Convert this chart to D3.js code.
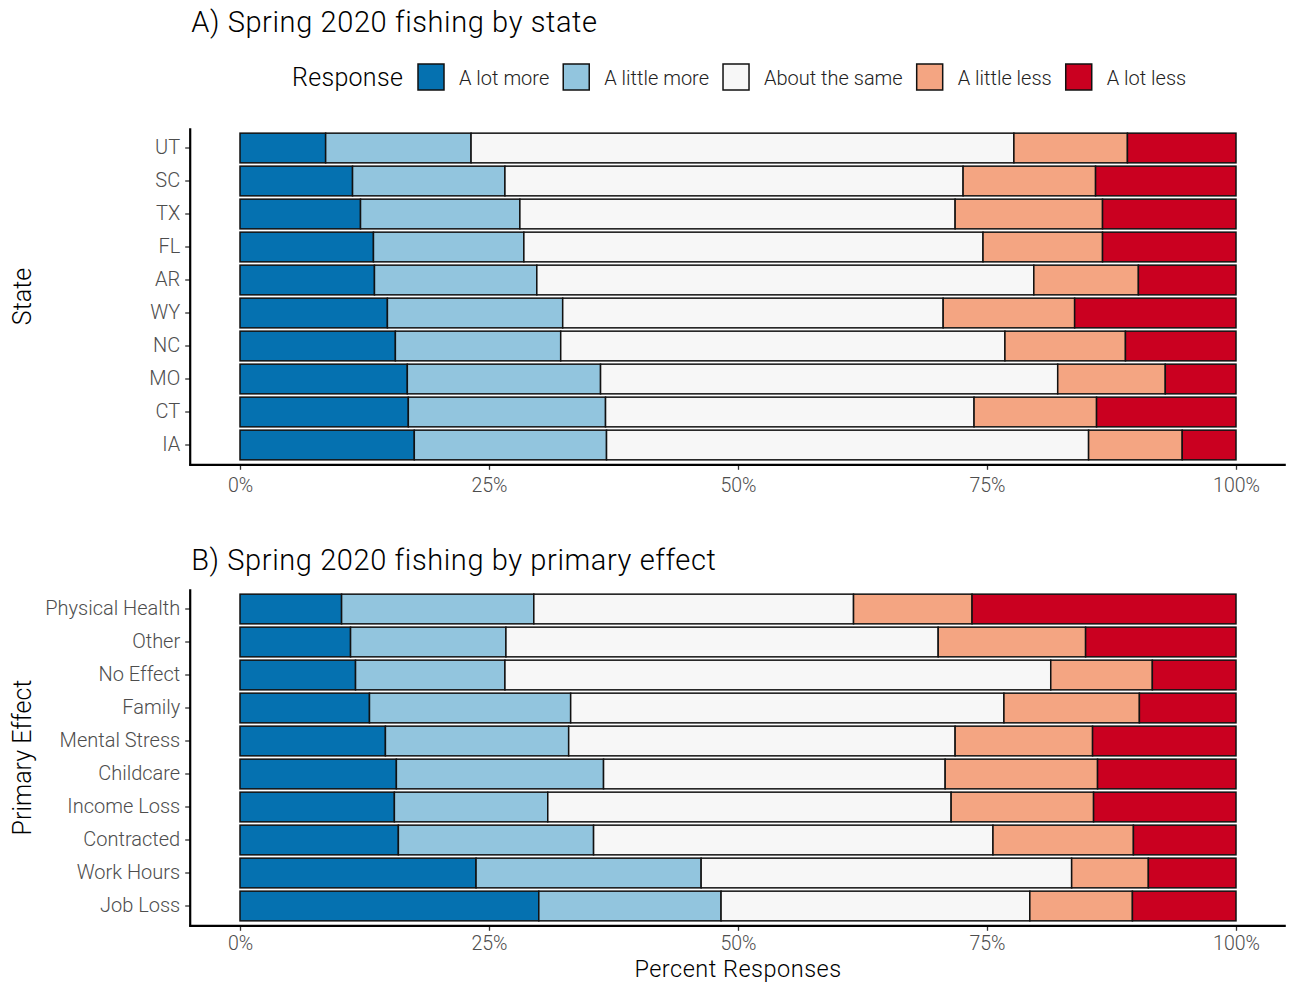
<!DOCTYPE html>
<html>
<head>
<meta charset="utf-8">
<script src="https://cdn.jsdelivr.net/npm/d3@7"></script>
<style>
  body { margin: 0; background: #fff; }
  svg { display: block; }
  text { font-family: Roboto, "Liberation Sans", Arial, sans-serif; font-weight: 300; }
</style>
</head>
<body>
<svg id="chart" width="1291" height="983"></svg>
<script>
// Response levels and their fill colours (RdBu, 5 classes)
const responses = ["A lot more", "A little more", "About the same", "A little less", "A lot less"];
const responseColors = ["#0571b0", "#92c5de", "#f7f7f7", "#f4a582", "#ca0020"];

// Panel A: share of responses (%) by state
const states = ["UT", "SC", "TX", "FL", "AR", "WY", "NC", "MO", "CT", "IA"];
const stateLotMore    = [8.6, 11.3, 12.1, 13.4, 13.5, 14.8, 15.6, 16.8, 16.9, 17.5];
const stateLittleMore = [14.6, 15.3, 16.0, 15.1, 16.3, 17.6, 16.6, 19.4, 19.8, 19.3];
const stateSame       = [54.5, 46.0, 43.7, 46.1, 49.9, 38.2, 44.6, 45.9, 37.0, 48.4];
const stateLittleLess = [11.4, 13.3, 14.8, 12.0, 10.5, 13.2, 12.1, 10.8, 12.3, 9.4];
const stateLotLess    = [10.9, 14.1, 13.4, 13.4, 9.8, 16.2, 11.1, 7.1, 14.0, 5.4];

// Panel B: share of responses (%) by primary COVID-19 effect
const effects = ["Physical Health", "Other", "No Effect", "Family", "Mental Stress",
                 "Childcare", "Income Loss", "Contracted", "Work Hours", "Job Loss"];
const effectLotMore    = [10.2, 11.1, 11.6, 13.0, 14.6, 15.7, 15.5, 15.9, 23.7, 30.0];
const effectLittleMore = [19.3, 15.6, 15.0, 20.2, 18.4, 20.8, 15.4, 19.6, 22.6, 18.3];
const effectSame       = [32.1, 43.4, 54.8, 43.5, 38.8, 34.3, 40.5, 40.1, 37.2, 31.0];
const effectLittleLess = [11.9, 14.8, 10.2, 13.6, 13.8, 15.3, 14.3, 14.1, 7.7, 10.3];
const effectLotLess    = [26.5, 15.1, 8.4, 9.7, 14.4, 13.9, 14.3, 10.3, 8.8, 10.4];

const xTicks = [0, 0.25, 0.5, 0.75, 1];

const svg = d3.select("#chart");

// Shared horizontal scale: proportion of responses, with 5% padding on each side
const x = d3.scaleLinear().domain([0, 1]).range([240, 1236]);
const xPad = 0.05;

function buildRows(cats, cols) {
  return cats.map((c, i) => {
    const row = { cat: c };
    responses.forEach((r, j) => { row[r] = cols[j][i]; });
    return row;
  });
}

function drawPanel(cats, cols, top, bottom, title, titleY, yTitle, xTickPad) {
  const rows = buildRows(cats, cols);
  const stack = d3.stack().keys(responses).offset(d3.stackOffsetExpand);
  const layers = stack(rows);

  const y = d3.scaleBand().domain(cats).range([top, bottom])
    .paddingInner(0.1).paddingOuter(0.15);

  const g = svg.append("g");

  // stacked bars
  layers.forEach((layer, j) => {
    g.append("g")
      .selectAll("rect")
      .data(layer)
      .join("rect")
      .attr("x", d => x(d[0]))
      .attr("width", d => x(d[1]) - x(d[0]))
      .attr("y", d => y(d.data.cat))
      .attr("height", y.bandwidth())
      .attr("fill", responseColors[j])
      .attr("stroke", "#111")
      .attr("stroke-width", 1.5);
  });

  // y axis
  const yAxis = g.append("g")
    .attr("transform", `translate(${x(-xPad)},0)`)
    .call(d3.axisLeft(y).tickSize(5).tickPadding(5));
  yAxis.select(".domain").remove();
  yAxis.selectAll(".tick line").attr("stroke", "#333").attr("stroke-width", 1.3);
  yAxis.selectAll(".tick text").attr("fill", "#4d4d4d").style("font-size", "20px");

  // x axis
  const xAxis = g.append("g")
    .attr("transform", `translate(0,${bottom})`)
    .call(d3.axisBottom(x).tickValues(xTicks).tickFormat(d3.format(".0%")).tickSize(5).tickPadding(xTickPad));
  xAxis.select(".domain").remove();
  xAxis.selectAll(".tick line").attr("stroke", "#333").attr("stroke-width", 1.3);
  xAxis.selectAll(".tick text").attr("fill", "#4d4d4d").style("font-size", "19.5px");

  // axis lines
  g.append("line")
    .attr("x1", x(-xPad)).attr("x2", x(-xPad))
    .attr("y1", top).attr("y2", bottom)
    .attr("stroke", "#000").attr("stroke-width", 2.2);
  g.append("line")
    .attr("x1", x(-xPad) - 1.1).attr("x2", x(1 + xPad))
    .attr("y1", bottom).attr("y2", bottom)
    .attr("stroke", "#000").attr("stroke-width", 2.2);

  // panel title
  g.append("text")
    .attr("x", x(-xPad) + 1).attr("y", titleY)
    .style("font-size", "29px").style("letter-spacing", "0.6px").attr("fill", "#000")
    .text(title);

  // y axis title
  g.append("text")
    .attr("transform", `translate(31,${(top + bottom) / 2}) rotate(-90)`)
    .attr("text-anchor", "middle")
    .style("font-size", "25px").attr("fill", "#000")
    .text(yTitle);

  return g;
}

drawPanel(states,
  [stateLotMore, stateLittleMore, stateSame, stateLittleLess, stateLotLess],
  128.2, 464.8, "A) Spring 2020 fishing by state", 32, "State", 8);

drawPanel(effects,
  [effectLotMore, effectLittleMore, effectSame, effectLittleLess, effectLotLess],
  589.2, 925.8, "B) Spring 2020 fishing by primary effect", 570, "Primary Effect", 5);

// x axis title (shared, below panel B)
svg.append("text")
  .attr("x", x(0.5)).attr("y", 977)
  .attr("text-anchor", "middle")
  .style("font-size", "23.5px").style("letter-spacing", "0.5px").attr("fill", "#000")
  .text("Percent Responses");

// legend
const legend = svg.append("g");
legend.append("text")
  .attr("x", 292).attr("y", 86)
  .style("font-size", "25px").style("letter-spacing", "0.3px").attr("fill", "#000")
  .text("Response");

let lx = 418;
responses.forEach((r, j) => {
  legend.append("rect")
    .attr("x", lx).attr("y", 64).attr("width", 26).attr("height", 26)
    .attr("fill", responseColors[j]).attr("stroke", "#111").attr("stroke-width", 1.5);
  const t = legend.append("text")
    .attr("x", lx + 41).attr("y", 85)
    .style("font-size", "20px").attr("fill", "#222")
    .text(r);
  lx += 41 + t.node().getComputedTextLength() + 14;
});
</script>
</body>
</html>
